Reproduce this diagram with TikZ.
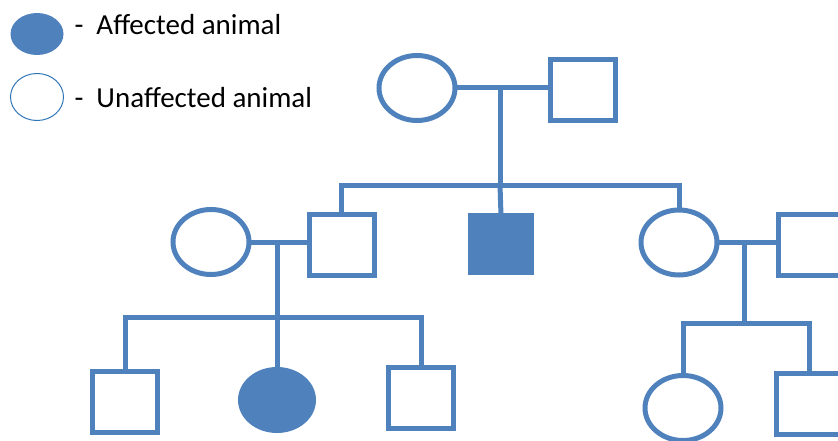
\documentclass[tikz,border=0pt]{standalone}
\usepackage{fontspec}
\setmainfont{Carlito}
\usetikzlibrary{shapes.geometric}
\definecolor{ped}{RGB}{79,129,189}
\definecolor{legline}{RGB}{46,117,182}
\begin{document}
\begin{tikzpicture}[x=1pt,y=-1pt,
  every node/.style={inner sep=0pt, outer sep=0pt},
  lnk/.style={draw=ped, line width=5pt},
  fem/.style={ellipse, draw=ped, line width=5pt, minimum width=76pt, minimum height=65pt},
  mal/.style={rectangle, draw=ped, line width=5pt, minimum width=65pt, minimum height=61pt},
  affected/.style={fill=ped},
  legtext/.style={anchor=base west, font=\fontsize{29}{34}\selectfont}]
\useasboundingbox (0,0) rectangle (838,441);
\clip (0,0) rectangle (838,441);
% legend
\node[ellipse, fill=ped, minimum width=53pt, minimum height=42pt] (la) at (37,34) {};
\node[legtext] (lat) at (74.5,35) {-~~Affected animal};
\node[ellipse, draw=legline, line width=1pt, minimum width=53pt, minimum height=47pt] (lu) at (37,97) {};
\node[legtext] (lut) at (74.5,108) {-~~Unaffected animal};
% generation I
\node[fem] (gm) at (417,88) {};
\node[mal] (gf) at (583,90) {};
% generation II
\node[mal] (c1) at (341.5,244.5) {};
\node[mal, affected, minimum width=61pt, minimum height=57pt] (c2) at (501,244) {};
\node[fem] (c3) at (679,242.5) {};
\node[fem] (w1) at (211,242) {};
\node[mal] (h3) at (811,244.5) {};
% generation III
\node[mal] (g1) at (125,402) {};
\node[fem, affected, minimum width=73pt, minimum height=61pt] (g2) at (277,400) {};
\node[mal] (g3) at (421,398) {};
\node[fem] (g4) at (683,408) {};
\node[mal] (g5) at (809,404) {};
% coordinates
\coordinate (m1) at (500,88);
\coordinate (s1) at (500,185);
\coordinate (m2) at (277,242);
\coordinate (s2) at (277,317);
\coordinate (m3) at (744,242);
\coordinate (s3) at (744,323);
% family I
\draw[lnk] (gm.east |- m1) -- (gf.west |- m1);
\draw[lnk] (m1) -- (s1);
\draw[lnk] (c1.north) -- (c1.north |- s1) -- (c3.north |- s1) -- (c3.north);
\draw[lnk] (s1) -- (c2.north);
% family II-1
\draw[lnk] (w1.east) -- (c1.west |- w1.east);
\draw[lnk] (m2) -- (s2);
\draw[lnk] (g1.north) -- (g1.north |- s2) -- (g3.north |- s2) -- (g3.north);
\draw[lnk] (s2) -- (g2.north);
% family II-3
\draw[lnk] (c3.east) -- (h3.west |- c3.east);
\draw[lnk] (m3) -- (s3);
\draw[lnk] (g4.north) -- (g4.north |- s3) -- (g5.north |- s3) -- (g5.north);
\end{tikzpicture}
\end{document}
